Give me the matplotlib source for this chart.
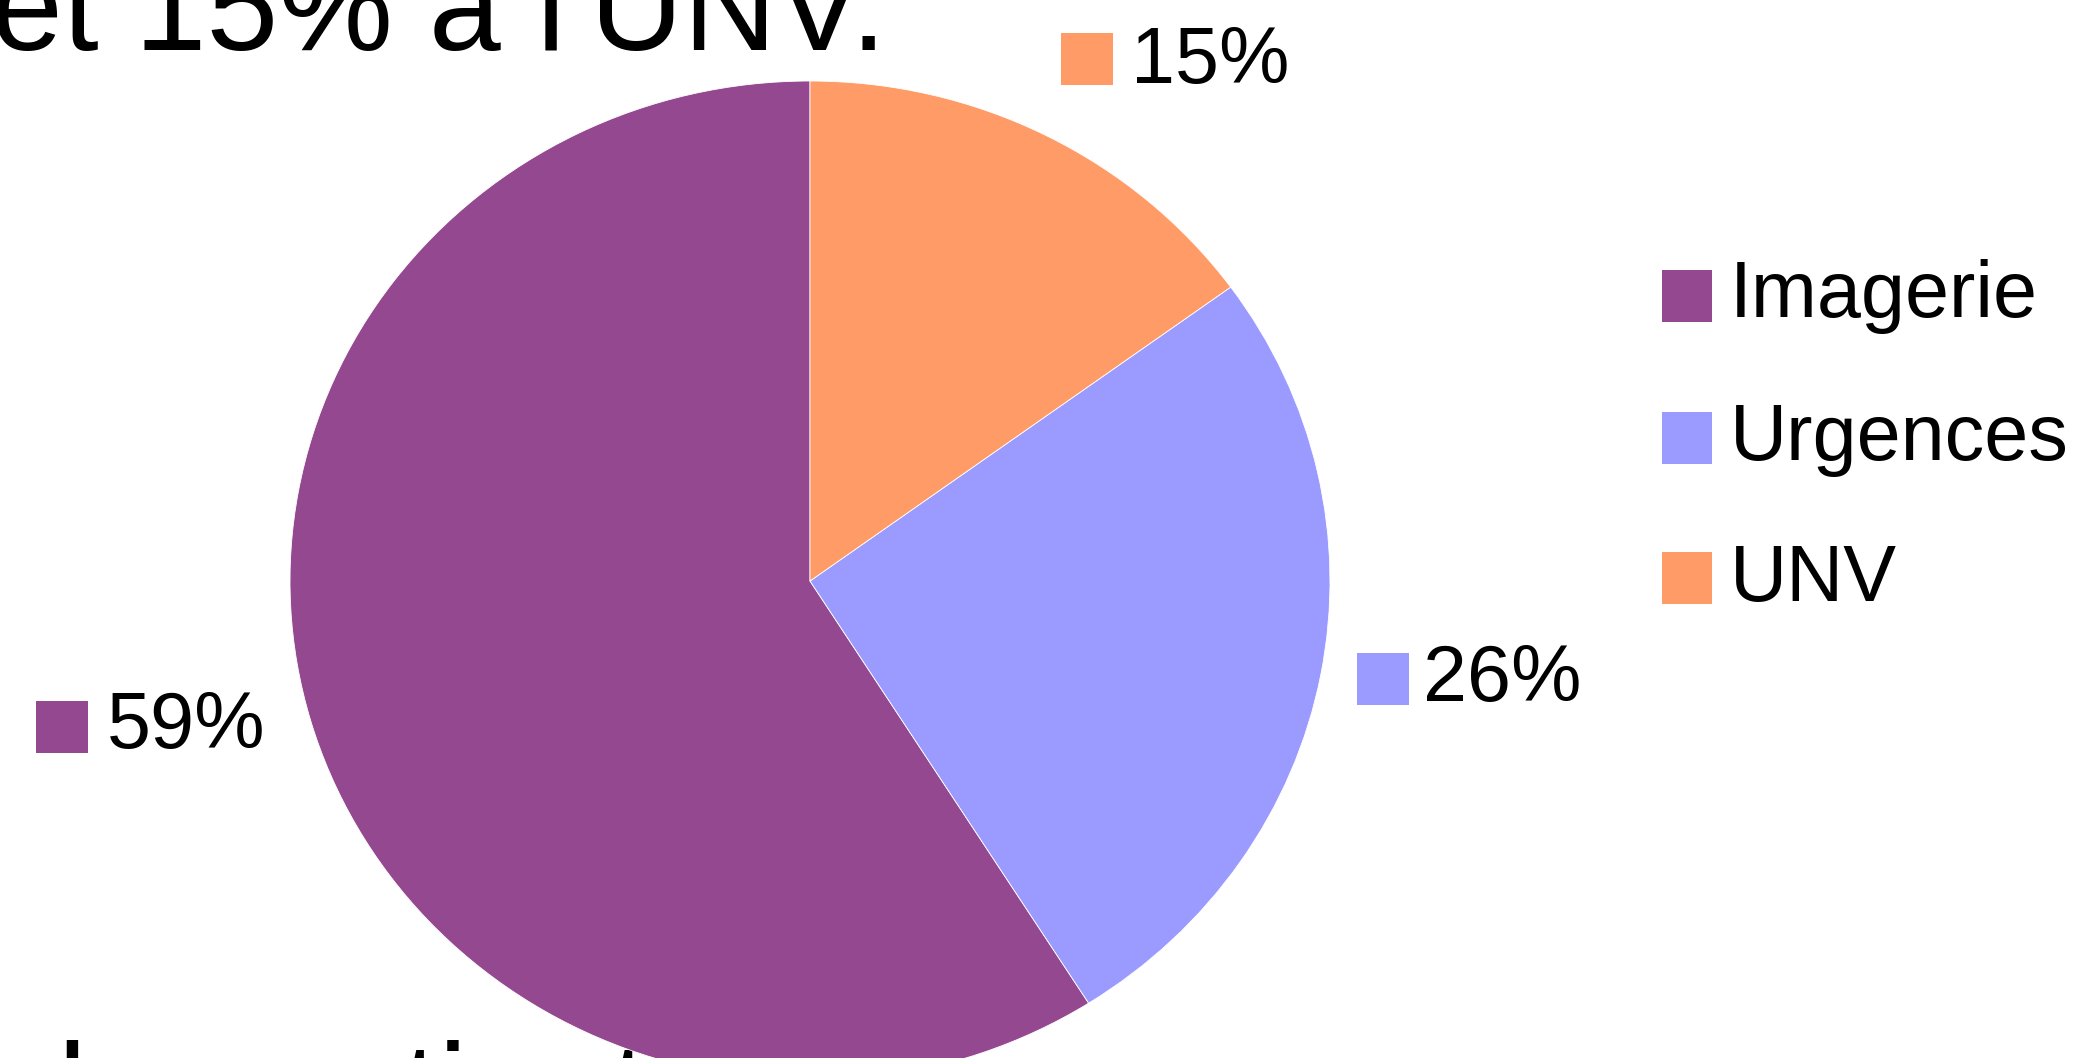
import matplotlib
matplotlib.use('Agg')
import matplotlib.pyplot as plt
from matplotlib.patches import Rectangle

plt.rcParams['font.family'] = ['Liberation Sans', 'DejaVu Sans']

# données
labels = ['Imagerie', 'Urgences', 'UNV']
values = [59, 26, 15]
colors = ['#94488F', '#9B9BFF', '#FF9B66']

W, H = 2093, 1058

def fx(x):
    return x / W

def fy(y):
    return 1 - y / H

fig = plt.figure(figsize=(W / 100, H / 100), dpi=100)

# texte de la diapo (coupé en haut et en bas)
fig.text(fx(-9), fy(50), "et 15% à l'UNV.", fontsize=93, va='baseline', ha='left', zorder=-1)
fig.text(fx(58), fy(1134), "les patients", fontsize=93, va='baseline', ha='left', zorder=-1)

# camembert (légèrement ovale comme l'image d'origine)
ax = fig.add_axes([fx(290), fy(1081), 1040 / W, 1000 / H])
ax.pie(values, colors=colors, startangle=90, counterclock=True,
       wedgeprops=dict(edgecolor='white', linewidth=0.6))
ax.set_aspect('auto')
ax.set_xlim(-1, 1)
ax.set_ylim(-1, 1)
ax.axis('off')

# étiquettes de pourcentage : (centre du carré x, y), position du texte x, ligne de base
pct_pos = [(62, 727, 107, 748), (1383, 679, 1423, 701), (1087, 59, 1131, 83)]
sq = 52
for v, c, (cx, cy, tx, ty) in zip(values, colors, pct_pos):
    fig.add_artist(Rectangle((fx(cx - sq / 2), fy(cy + sq / 2)), sq / W, sq / H,
                             transform=fig.transFigure, facecolor=c, edgecolor='none'))
    fig.text(fx(tx), fy(ty), '%d%%' % v, fontsize=57, va='baseline', ha='left')

# légende
leg_y = [296, 438, 578]
leg_base = [317, 460, 601]
for lab, c, y, b in zip(labels, colors, leg_y, leg_base):
    fig.add_artist(Rectangle((fx(1687 - 25), fy(y + 26)), 50 / W, 52 / H,
                             transform=fig.transFigure, facecolor=c, edgecolor='none'))
    fig.text(fx(1730), fy(b), lab, fontsize=57, va='baseline', ha='left')

fig.savefig('out.png', dpi=100, facecolor='white')
